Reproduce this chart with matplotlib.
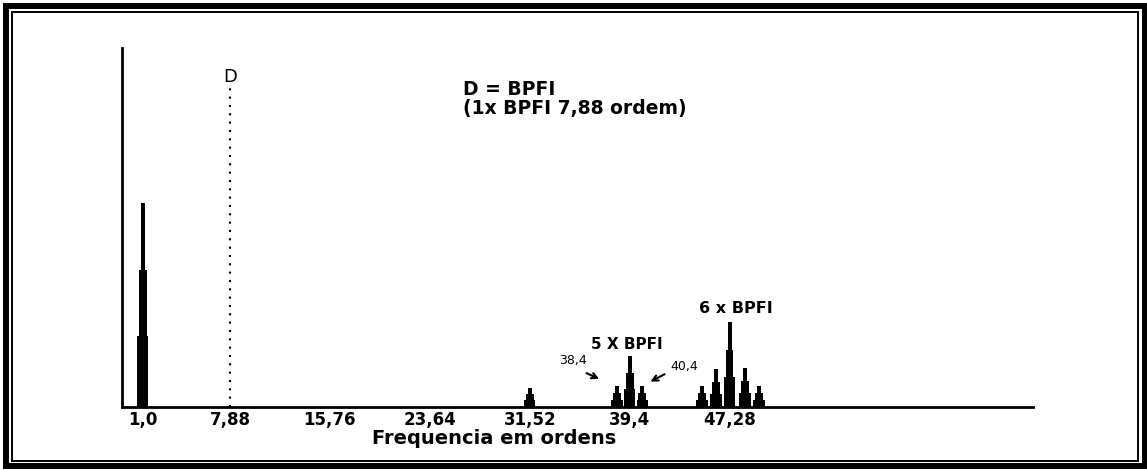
import matplotlib
matplotlib.use("Agg")
import matplotlib.pyplot as plt
from matplotlib.patches import Rectangle

# ordens dos picos do espectro e suas amplitudes (unidade arbitraria)
ordens = [1.0, 31.52, 38.4, 39.4, 40.4, 45.1, 46.2, 47.28, 48.5, 49.6]
amplitudes = [56.8, 5.3, 5.8, 14.2, 5.8, 5.8, 10.6, 23.7, 10.9, 5.8]

bpfi = 7.88
tick_vals = [1.0, 7.88, 15.76, 23.64, 31.52, 39.4, 47.28]
tick_labels = ["1,0", "7,88", "15,76", "23,64", "31,52", "39,4", "47,28"]

# cada pico desenhado em degraus (fracao da altura, largura em ordens)
degraus = [(0.35, 0.9), (0.67, 0.62), (1.0, 0.32)]

fig = plt.figure(figsize=(11.47, 4.70), dpi=100)
ax = fig.add_axes([122 / 1147, 63 / 470, 911 / 1147, 359 / 470])

for frac, larg in degraus:
    ax.bar(ordens, [a * frac for a in amplitudes], width=larg,
           color="black", linewidth=0)

ax.set_xlim(-0.63, 71.21)
ax.set_ylim(0, 100)

for lado in ["top", "right"]:
    ax.spines[lado].set_visible(False)
for lado in ["left", "bottom"]:
    ax.spines[lado].set_linewidth(2)

ax.set_yticks([])
ax.set_xticks(tick_vals, tick_labels)
ax.tick_params(axis="x", length=0, pad=3, labelsize=12)
for lab in ax.get_xticklabels():
    lab.set_fontweight("bold")

ax.set_xlabel("Frequencia em ordens", fontsize=14, fontweight="bold")
ax.xaxis.set_label_coords(0.409, -0.062)

# linha pontilhada do BPFI
ax.vlines(bpfi, 0, 89, colors="black", linestyles=(0, (1, 3)), linewidth=1.5)
ax.text(bpfi, 92.0, "D", ha="center", va="center", fontsize=13)

ax.text(26.26, 91.0, "D = BPFI\n(1x BPFI 7,88 ordem)", ha="left", va="top",
        fontsize=13.5, fontweight="bold", linespacing=0.98)

ax.text(39.2, 16.2, "5 X BPFI", ha="center", va="baseline",
        fontsize=11, fontweight="bold")
ax.text(47.8, 26.2, "6 x BPFI", ha="center", va="baseline",
        fontsize=11.5, fontweight="bold")

ax.text(34.9, 12.0, "38,4", ha="center", va="baseline", fontsize=9)
ax.text(43.7, 10.3, "40,4", ha="center", va="baseline", fontsize=9)
ax.annotate("", xy=(37.2, 7.5), xytext=(35.8, 9.75),
            arrowprops=dict(arrowstyle="->", color="black", lw=1.5))
ax.annotate("", xy=(40.85, 6.7), xytext=(42.35, 9.5),
            arrowprops=dict(arrowstyle="->", color="black", lw=1.5))

# moldura dupla em volta da figura
fig.patches.append(Rectangle((6 / 1147, 4.5 / 470), 1138.5 / 1147, 459.5 / 470,
                             transform=fig.transFigure, fill=False,
                             edgecolor="black", linewidth=4.3))
fig.patches.append(Rectangle((12 / 1147, 9.5 / 470), 1126 / 1147, 449 / 470,
                             transform=fig.transFigure, fill=False,
                             edgecolor="black", linewidth=1.4))

fig.savefig("out.png", dpi=100)
